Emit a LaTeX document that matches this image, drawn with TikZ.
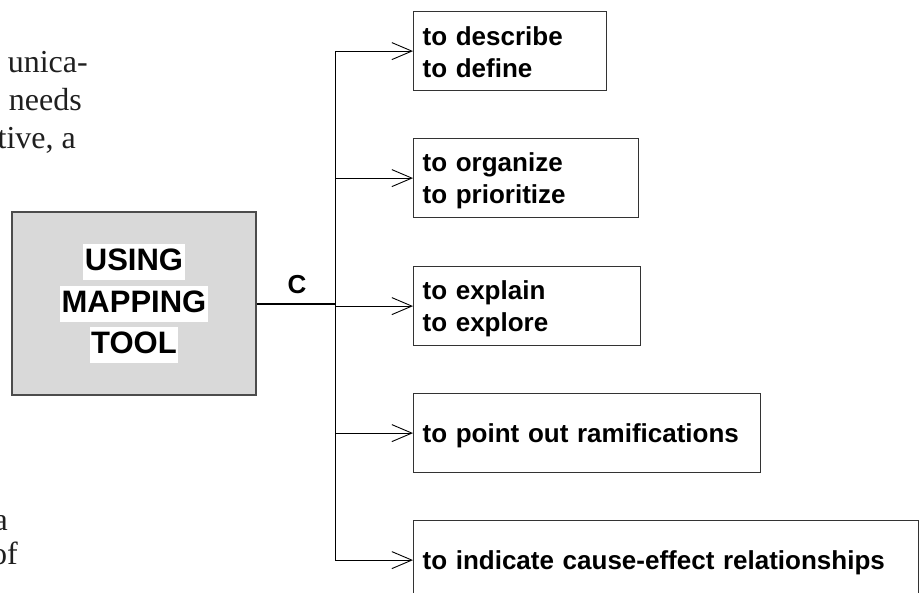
\documentclass[tikz,border=0pt]{standalone}
\usepackage{fontspec}
\setmainfont{Liberation Sans}
\newfontfamily\bodyserif{Liberation Serif}
\usetikzlibrary{arrows.meta}

% strut giving every box line the same height and depth
\newcommand\lnstrut{\rule[-4pt]{0pt}{28pt}}
% strut for the white bands behind the title lines
\newcommand\ttlstrut{\rule[-8pt]{0pt}{33pt}}

\begin{document}
\begin{tikzpicture}[x=1pt,y=-1pt,
  branchbox/.style={draw=black!80, line width=1.2pt, anchor=north west,
    minimum height=79pt, inner ysep=0pt, inner xsep=9pt, align=left,
    font=\fontsize{26}{32}\selectfont\bfseries},
  toolbox/.style={draw=black!70, line width=1.2pt, fill=black!15,
    minimum width=244pt, minimum height=183pt, inner sep=0pt, align=center,
    font=\fontsize{31}{41.5}\selectfont\bfseries},
  conn/.style={draw=black, line width=0.9pt,
    -{Straight Barb[length=20pt,width=17pt,line width=0.9pt]}},
  trunkline/.style={draw=black, line width=2pt},
  clabel/.style={font=\fontsize{26}{31}\selectfont\bfseries, inner sep=0pt,
    anchor=base, align=center},
  bodytext/.style={font=\bodyserif\fontsize{32}{38}\selectfont, text=black!88,
    inner sep=0pt, anchor=base east, align=right}
]
\fill[white] (0,0) rectangle (921,592);
\useasboundingbox (0,0) rectangle (921,592);

% running text of the page beside the figure
\node[bodytext] (p1) at (88,72) {unica-};
\node[bodytext] (p2) at (82,110) {needs};
\node[bodytext] (p3) at (76,148) {tive, a};
\node[bodytext] (p4) at (8,530) {a};
\node[bodytext] (p5) at (18,564) {of};

% central box
\setlength{\fboxsep}{1.5pt}
\node[toolbox] (tool) at (134,303.5)
  {\colorbox{white}{\ttlstrut USING}\\
   \colorbox{white}{\ttlstrut MAPPING}\\
   \colorbox{white}{\ttlstrut TOOL}};

% purpose boxes
\node[branchbox, text width=175pt] (b1) at (413,11)
  {\lnstrut to describe\\\lnstrut to define};
\node[branchbox, text width=207pt] (b2) at (413,138)
  {\lnstrut to organize\\\lnstrut to prioritize};
\node[branchbox, text width=209pt] (b3) at (413,266)
  {\lnstrut to explain\\\lnstrut to explore};
\node[branchbox, text width=329pt] (b4) at (413,393)
  {\lnstrut to point out ramifications};
\node[branchbox, text width=487pt] (b5) at (413,520)
  {\lnstrut to indicate cause-effect relationships};

% connectors
\coordinate (hub) at (335,303.5);
\draw[trunkline] (tool.east) -- (hub);
\node[clabel] (c) at (297,293) {C};
\foreach \b in {b1,b2,b3,b4,b5}
  \draw[conn] (hub) |- (\b.west);
\end{tikzpicture}
\end{document}
